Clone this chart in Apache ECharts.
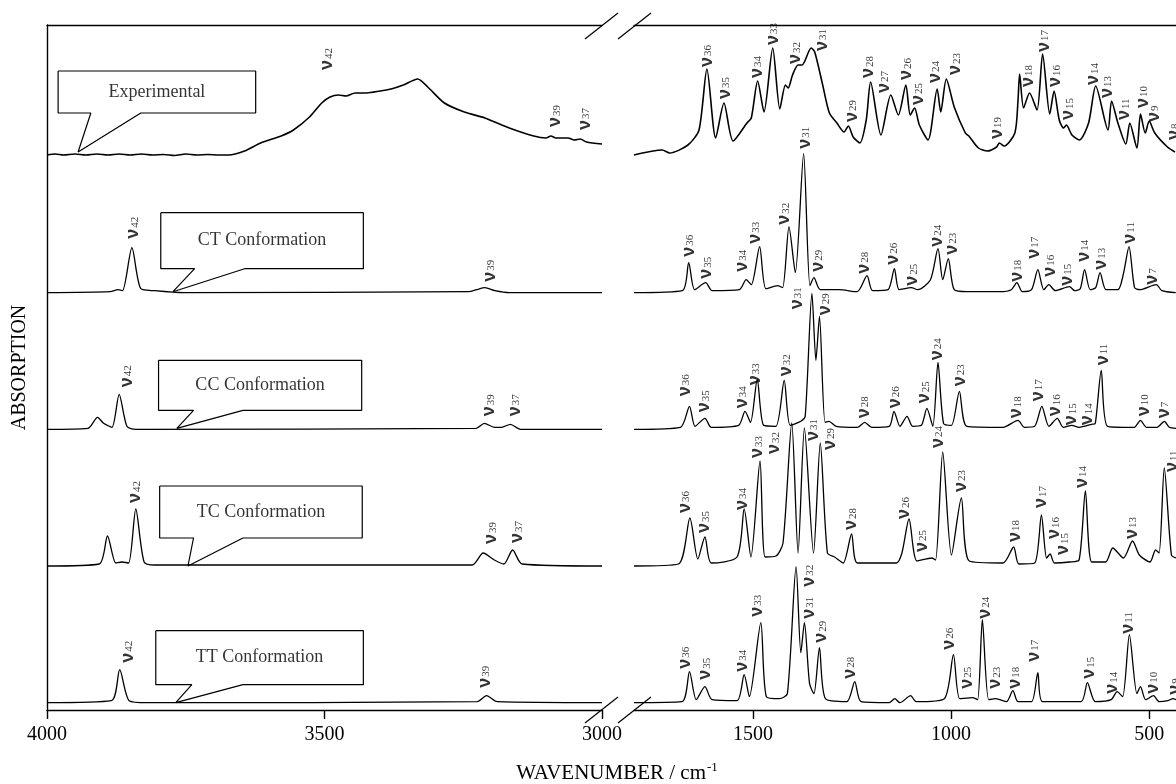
<!DOCTYPE html>
<html><head><meta charset="utf-8">
<script src="https://cdn.jsdelivr.net/npm/echarts@6/dist/echarts.min.js"></script>
<style>html,body{margin:0;padding:0;background:#fff}#c{width:1176px;height:784px}</style>
</head><body><div id="c"></div>
<script>
// ---- axis ticks ----
const leftTicks = [4000, 3500, 3000];
const rightTicks = [1500, 1000, 500];

// ---- vertical offsets of each trace (stacked spectra) ----
const offExp = 555, offCT = 417.3, offCC = 280.7, offTC = 144, offTT = 7.3;

// ---- spectra: [wavenumber, absorption above own baseline] ----
const expLeft = [[4000,0],[3985,1],[3970,0],[3950,1],[3930,0],[3910,1],[3890,0],[3870,1],[3850,0],[3830,1],[3810,0],[3790,0.5],[3770,-0.5],[3750,1],[3730,0],[3710,0.5],[3690,0],[3673,0],[3644,4],[3615,12],[3578,19],[3556,25],[3527,38],[3505,52],[3490,58],[3475,60],[3461,59],[3445,62],[3424,62],[3400,64],[3380,66],[3358,70],[3332,76],[3314,68],[3284,52],[3248,43],[3211,37],[3167,27],[3123,19],[3101,17],[3092,19],[3083,17],[3061,17],[3050,15],[3039,16],[3028,13],[3000,11]];
const expRight = [[1800,0],[1729,5],[1710,2],[1664,10],[1636,25],[1616,86],[1594,17],[1573,52],[1550,14],[1515,32],[1504,37],[1488,74],[1472,43],[1450,107],[1432,46],[1418,70],[1411,67],[1400,80],[1386,90],[1376,90],[1353,107],[1344,103],[1325,72],[1307,42],[1288,32],[1270,23],[1259,29],[1247,18],[1230,12],[1214,35],[1203,73],[1177,20],[1152,60],[1133,40],[1114,70],[1103,40],[1092,47],[1080,30],[1058,15],[1035,66],[1026,43],[1012,76],[992,48],[964,22],[955,19],[931,7],[908,4],[885,8],[878,12],[866,9],[839,22],[831,55],[827,81],[817,47],[802,62],[783,45],[769,101],[751,41],[740,64],[727,35],[716,27],[709,30],[695,20],[676,15],[653,32],[635,69],[604,25],[595,54],[579,32],[559,11],[549,32],[531,7],[522,41],[510,22],[500,34],[486,22],[454,8],[435,3]];

const ctLeft = [[4000,0],[3886,1],[3872,3],[3864,2],[3847,45],[3831,4],[3806,2],[3754,0],[3240,1],[3226,3],[3211,5],[3193,2],[3167,0],[3000,0]];
const ctRight = [[1800,0],[1678,2],[1662,30],[1647,3],[1619,10],[1603,2],[1534,3],[1517,13],[1504,8],[1483,46],[1467,4],[1437,7],[1425,5],[1409,66],[1393,20],[1372,139],[1356,7],[1346,15],[1330,3],[1284,3],[1237,1],[1212,17],[1198,2],[1159,3],[1143,24],[1131,3],[1100,5],[1084,3],[1052,13],[1033,44],[1021,13],[1007,34],[992,3],[959,1],[876,1],[848,3],[834,10],[820,1],[797,3],[781,23],[766,3],[753,8],[737,2],[701,6],[688,2],[674,4],[663,23],[649,3],[635,5],[624,20],[609,3],[579,3],[565,19],[551,46],[537,5],[524,3],[482,8],[468,2],[433,0]];

const ccLeft = [[4000,0],[3926,1],[3909,12],[3898,6],[3883,2],[3870,35],[3856,3],[3840,0],[3227,1],[3212,6],[3194,2],[3181,2],[3165,5],[3147,0],[3000,0]];
const ccRight = [[1800,0],[1683,2],[1660,23],[1646,3],[1621,11],[1605,2],[1536,4],[1520,18],[1506,7],[1489,50],[1473,4],[1442,3],[1421,49],[1406,4],[1379,8],[1368,13],[1351,136],[1341,69],[1332,113],[1318,7],[1308,8],[1290,3],[1236,2],[1218,7],[1200,2],[1156,3],[1144,18],[1129,3],[1111,13],[1097,3],[1075,4],[1061,21],[1046,3],[1033,67],[1019,6],[999,4],[979,38],[960,3],[869,2],[831,9],[815,2],[789,3],[771,23],[753,3],[732,11],[717,2],[695,4],[677,2],[645,5],[636,6],[621,59],[605,3],[538,2],[522,9],[507,2],[480,2],[462,8],[449,2],[432,1]];

const tcLeft = [[4000,0],[3906,2],[3891,30],[3876,3],[3865,4],[3853,3],[3840,57],[3825,4],[3806,1],[3234,1],[3214,13],[3194,6],[3177,2],[3161,16],[3144,2],[3000,0]];
const tcRight = [[1800,0],[1688,2],[1659,48],[1639,7],[1621,29],[1605,3],[1540,9],[1522,57],[1505,9],[1482,105],[1469,9],[1442,10],[1424,23],[1402,143],[1386,13],[1370,138],[1347,13],[1330,123],[1312,13],[1294,9],[1272,3],[1251,32],[1236,3],[1138,3],[1124,13],[1106,47],[1086,5],[1048,8],[1039,6],[1021,114],[999,11],[974,68],[954,5],[869,3],[842,19],[829,2],[789,3],[772,51],[759,8],[750,12],[739,3],[701,4],[677,6],[661,75],[645,4],[610,4],[592,18],[565,8],[542,25],[525,11],[498,4],[484,16],[475,13],[462,98],[444,11],[432,8]];

const ttLeft = [[4000,0],[3884,2],[3869,33],[3852,2],[3820,0],[3225,1],[3208,7],[3189,1],[3000,0]];
const ttRight = [[1800,0],[1679,1],[1660,31],[1643,3],[1621,16],[1603,3],[1540,2],[1522,28],[1509,6],[1480,80],[1466,6],[1433,4],[1413,9],[1391,136],[1379,50],[1370,80],[1357,19],[1346,9],[1332,55],[1317,4],[1263,1],[1243,21],[1227,1],[1156,0],[1142,4],[1129,0],[1102,7],[1088,1],[1017,4],[994,48],[978,4],[945,5],[933,3],[921,83],[905,3],[887,4],[860,1],[844,12],[831,1],[797,1],[781,30],[769,1],[672,1],[656,20],[636,1],[596,3],[581,11],[567,6],[550,68],[531,9],[522,16],[509,3],[489,7],[475,1],[453,2],[440,4],[432,3]];

// ---- band labels: [wavenumber, height above baseline, mode number] ----
const expLeftL = [[3497,85,'42'],[3086,28,'39'],[3033,25,'37']];
const expRightL = [[1619,88,'36'],[1573,56,'35'],[1492,77,'34'],[1452,110,'33'],[1396,91,'32'],[1328,104,'31'],[1253,33,'29'],[1211,77,'28'],[1172,62,'27'],[1115,75,'26'],[1087,50,'25'],[1043,72,'24'],[992,80,'23'],[887,16,'19'],[809,68,'18'],[769,103,'17'],[739,68,'16'],[707,35,'15'],[644,70,'14'],[609,57,'13'],[565,35,'11'],[519,47,'10'],[491,33,'9'],[440,15,'8']];
const ctLeftL = [[3846,54,'42'],[3204,11,'39']];
const ctRightL = [[1664,36,'36'],[1620,14,'35'],[1531,21,'34'],[1497,49,'33'],[1423,68,'32'],[1372,144,'31'],[1339,21,'29'],[1223,19,'28'],[1149,28,'26'],[1100,7,'25'],[1038,46,'24'],[1001,38,'23'],[836,11,'18'],[794,34,'17'],[753,16,'16'],[711,7,'15'],[667,31,'14'],[625,23,'13'],[551,49,'11'],[496,8,'7']];
const ccLeftL = [[3858,42,'42'],[3205,13,'39'],[3159,13,'37']];
const ccRightL = [[1675,33,'36'],[1625,17,'35'],[1530,21,'34'],[1497,44,'33'],[1419,53,'32'],[1391,120,'31'],[1321,114,'29'],[1223,11,'28'],[1145,21,'26'],[1070,26,'25'],[1039,69,'24'],[981,43,'23'],[838,11,'18'],[784,28,'17'],[739,13,'16'],[699,4,'15'],[659,4,'14'],[620,64,'11'],[516,13,'10'],[466,11,'7']];
const tcLeftL = [[3843,63,'42'],[3201,22,'39'],[3154,23,'37']];
const tcRightL = [[1675,53,'36'],[1625,33,'35'],[1530,56,'34'],[1491,108,'33'],[1448,112,'32'],[1352,125,'31'],[1308,116,'29'],[1254,36,'28'],[1120,47,'26'],[1077,14,'25'],[1036,118,'24'],[978,74,'23'],[842,24,'18'],[775,58,'17'],[742,27,'16'],[719,11,'15'],[672,78,'14'],[547,27,'13'],[444,94,'11']];
const ttLeftL = [[3856,40,'42'],[3213,15,'39']];
const ttRightL = [[1675,34,'36'],[1623,23,'35'],[1531,31,'34'],[1493,86,'33'],[1361,116,'32'],[1361,84,'31'],[1330,60,'29'],[1258,24,'28'],[1008,53,'26'],[963,14,'25'],[918,84,'24'],[891,14,'23'],[842,14,'18'],[793,41,'17'],[654,24,'15'],[596,9,'14'],[556,69,'11'],[493,9,'10'],[438,8,'9']];

// ---- callout boxes ----
const calloutNames = ['Experimental','CT Conformation','CC Conformation','TC Conformation','TT Conformation'];
const calloutOffsets = [offExp, offCT, offCC, offTC, offTT];
// [boxLeftWn, boxRightWn, topH, bottomH, tailLeftWn, tailRightWn, tipWn, tipH]
const calloutBoxes = [
  [3980,3624,84,42,3921,3831,3944,3],
  [3795,3430,80,24,3734,3644,3773,1],
  [3799,3433,69,19,3736,3647,3766,1],
  [3797,3432,80,28,3736,3647,3746,0],
  [3804,3430,72,18,3739,3647,3768,0]
];

const chart = echarts.init(document.getElementById('c'), null, {renderer:'canvas'});
const SERIF = 'Liberation Serif';
const shift = (arr, off) => arr.map(p => [p[0], p[1] + off]);

const series = [];
function addTrace(data, off, side, w) {
  series.push({type:'line', xAxisIndex: side, yAxisIndex: side, data: shift(data, off),
    showSymbol:false, symbol:'none', smooth:0.25, lineStyle:{color:'#000', width:w}, z:3, silent:true});
}
function addLabels(list, off, side) {
  series.push({type:'scatter', xAxisIndex: side, yAxisIndex: side, symbolSize:0, silent:true, z:5,
    data: list.map(l => [l[0], l[1] + off, l[2]]),
    label:{show:true, position:[0,0], rotate:90, align:'left', verticalAlign:'middle',
      formatter: p => '{n|ν}{s|' + p.data[2] + '}',
      rich:{
        n:{fontFamily:'Liberation Sans', fontWeight:'bold', fontSize:18, lineHeight:16, verticalAlign:'top', color:'#000'},
        s:{fontFamily:SERIF, fontSize:11, lineHeight:11, verticalAlign:'bottom', padding:[9,0,0,1], color:'#000'}
      }}
  });
}
const traces = [
  [expLeft, expRight, expLeftL, expRightL, offExp, 1.6],
  [ctLeft, ctRight, ctLeftL, ctRightL, offCT, 1.3],
  [ccLeft, ccRight, ccLeftL, ccRightL, offCC, 1.3],
  [tcLeft, tcRight, tcLeftL, tcRightL, offTC, 1.3],
  [ttLeft, ttRight, ttLeftL, ttRightL, offTT, 1.3]
];
traces.forEach(t => {
  addTrace(t[0], t[4], 0, t[5]);
  addTrace(t[1], t[4], 1, t[5]);
  addLabels(t[2], t[4], 0);
  addLabels(t[3], t[4], 1);
});
calloutBoxes.forEach((b, i) => {
  const off = calloutOffsets[i];
  const [L, R, T, B, tL, tR, tip, tipH] = b;
  const poly = [[L,T],[R,T],[R,B],[tR,B],[tip,tipH],[tL,B],[L,B],[L,T]];
  series.push({type:'line', xAxisIndex:0, yAxisIndex:0, data: shift(poly, off), symbol:'none',
    lineStyle:{color:'#000', width:1.2}, z:4, silent:true, clip:false});
  series.push({type:'scatter', xAxisIndex:0, yAxisIndex:0, symbolSize:0, silent:true, z:5,
    data:[[(L+R)/2, (T+B)/2 + off]],
    label:{show:true, position:'inside', formatter: calloutNames[i], fontFamily:SERIF, fontSize:18, color:'#000'}});
});

const axisLine = {show:true, onZero:false, lineStyle:{color:'#000', width:1.4}};
const bottomAxis = (grid, min, max, ticks) => ({
  type:'value', gridIndex:grid, min, max, inverse:true, position:'bottom',
  axisLine, splitLine:{show:false},
  axisTick:{show:true, customValues:ticks, length:9, lineStyle:{color:'#000', width:1.4}},
  axisLabel:{show:true, customValues:ticks, formatter: v => String(v), margin:15, fontFamily:SERIF, fontSize:20, color:'#000'}
});
const topAxis = (grid, min, max) => ({
  type:'value', gridIndex:grid, min, max, inverse:true, position:'top',
  axisLine, splitLine:{show:false}, axisTick:{show:false}, axisLabel:{show:false}
});

const option = {
  backgroundColor:'#fff',
  animation:false,
  grid:[
    {left:47, width:555, top:25, height:685},
    {left:634, width:542, top:25, height:685}
  ],
  xAxis:[
    bottomAxis(0, 3000, 4000, leftTicks),
    bottomAxis(1, 432.4, 1800, rightTicks),
    topAxis(0, 3000, 4000),
    topAxis(1, 432.4, 1800)
  ],
  yAxis:[
    {type:'value', gridIndex:0, min:0, max:685, axisLine, axisTick:{show:false}, axisLabel:{show:false},
     splitLine:{show:false}, name:'ABSORPTION', nameLocation:'middle', nameGap:17,
     nameTextStyle:{fontFamily:SERIF, fontSize:20, color:'#000'}},
    {type:'value', gridIndex:1, min:0, max:685, show:false, splitLine:{show:false}}
  ],
  series,
  graphic:[
    // axis break marks
    {type:'line', shape:{x1:585, y1:39, x2:618, y2:13}, style:{stroke:'#000', lineWidth:1.2}},
    {type:'line', shape:{x1:618, y1:39, x2:651, y2:13}, style:{stroke:'#000', lineWidth:1.2}},
    {type:'line', shape:{x1:585, y1:723, x2:618, y2:697}, style:{stroke:'#000', lineWidth:1.2}},
    {type:'line', shape:{x1:618, y1:723, x2:651, y2:697}, style:{stroke:'#000', lineWidth:1.2}},
    {type:'text', x:617, y:773, style:{text:'WAVENUMBER / cm{sup|-1}', fontFamily:SERIF, fontSize:21, fill:'#000',
      align:'center', verticalAlign:'middle',
      rich:{sup:{fontFamily:SERIF, fontSize:13, verticalAlign:'top', padding:[0,0,10,1], fill:'#000'}}}}
  ]
};
chart.setOption(option);
</script>
</body></html>
